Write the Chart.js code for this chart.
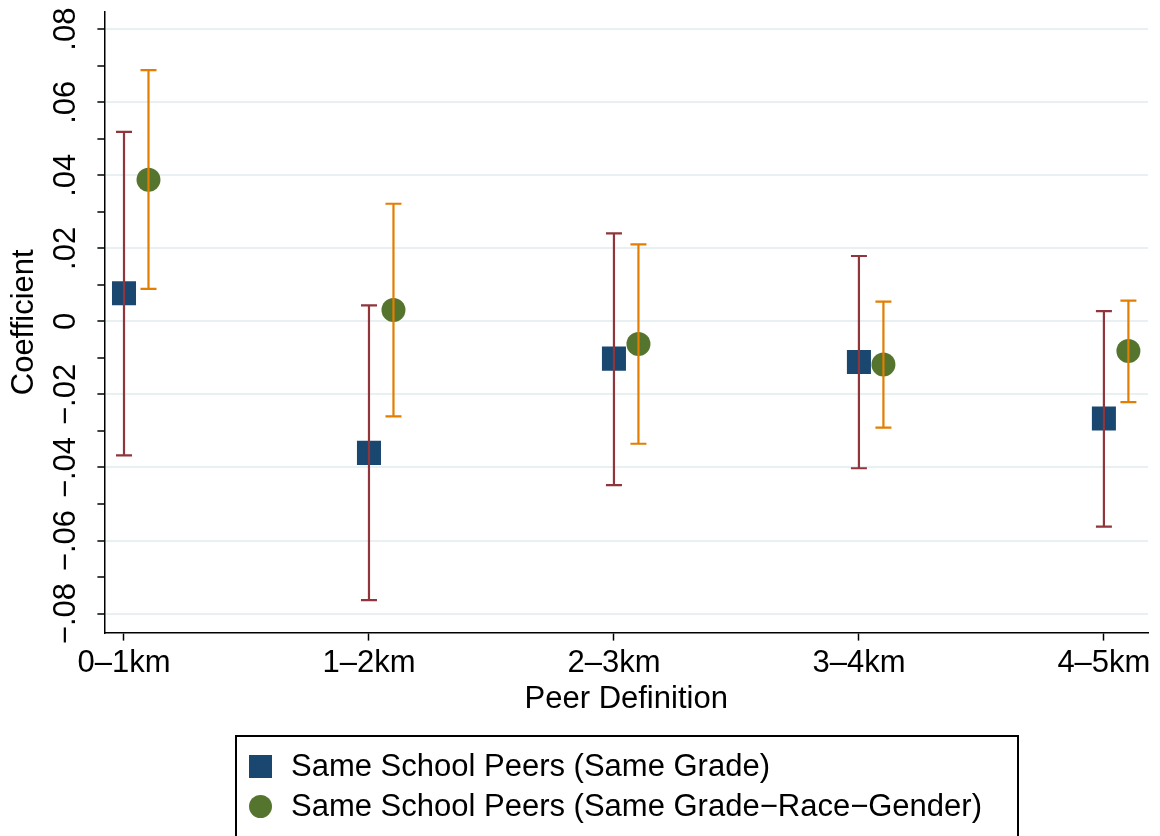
<!DOCTYPE html>
<html>
<head>
<meta charset="utf-8">
<script src="https://cdn.jsdelivr.net/npm/chart.js@4.4.0/dist/chart.umd.min.js"></script>
<style>
  html, body { margin: 0; padding: 0; background: #fff; }
  #wrap { position: relative; width: 1160px; height: 836px; overflow: hidden; }
  #legend {
    position: absolute; left: 235px; top: 735px; width: 784px; height: 140px;
    border: 2px solid #000; box-sizing: border-box;
    font-family: "Liberation Sans", Arial, sans-serif; font-size: 31px; color: #000;
  }
  .row { position: absolute; left: 0; height: 40px; display: flex; align-items: center; white-space: nowrap; }
  .sym { width: 23px; height: 23px; margin-left: 12px; margin-right: 19px; }
</style>
</head>
<body>
<div id="wrap">
  <canvas id="chart" width="1160" height="836"></canvas>
  <div id="legend">
    <div class="row" style="top:9px"><span class="sym" style="background:#1a476f"></span>Same School Peers (Same Grade)</div>
    <div class="row" style="top:49px"><span class="sym" style="background:#55752f;border-radius:50%"></span>Same School Peers (Same Grade−Race−Gender)</div>
  </div>
</div>
<script>
var categories = ['0–1km', '1–2km', '2–3km', '3–4km', '4–5km'];

// Same grade peers
var gradeCoef = [0.0077, -0.0360, -0.0102, -0.0111, -0.0266];
var gradeLow  = [-0.0367, -0.0763, -0.0448, -0.0402, -0.0562];
var gradeHigh = [0.0519, 0.0044, 0.0241, 0.0179, 0.0028];

// Same grade-race-gender peers
var grgCoef = [0.0388, 0.0031, -0.0062, -0.0118, -0.0081];
var grgLow  = [0.0089, -0.0260, -0.0335, -0.0291, -0.0221];
var grgHigh = [0.0688, 0.0322, 0.0211, 0.0054, 0.0057];

var yTickValues = [-0.08, -0.07, -0.06, -0.05, -0.04, -0.03, -0.02, -0.01, 0,
                   0.01, 0.02, 0.03, 0.04, 0.05, 0.06, 0.07, 0.08];
var yLabelValues = [-0.08, -0.06, -0.04, -0.02, 0, 0.02, 0.04, 0.06, 0.08];
var yLabels = ['−.08', '−.06', '−.04', '−.02', '0', '.02', '.04', '.06', '.08'];

var FONT = '"Liberation Sans", Arial, sans-serif';
var shift = 0.1; // second series sits a little to the right

function points(vals, dx) {
  return vals.map(function (v, i) { return {x: i + dx, y: v}; });
}

function isLabelled(v) {
  return Math.round(v * 100) % 2 === 0;
}

var errorBars = {
  id: 'errorBars',
  afterDatasetsDraw: function (chart) {
    var ctx = chart.ctx;
    var xs = chart.scales.x, ys = chart.scales.y;
    chart.data.datasets.forEach(function (ds) {
      ds.data.forEach(function (p, i) {
        var px = xs.getPixelForValue(p.x);
        var top = ys.getPixelForValue(ds.errHigh[i]);
        var bot = ys.getPixelForValue(ds.errLow[i]);
        ctx.save();
        ctx.strokeStyle = ds.errColor;
        ctx.lineWidth = 2.2;
        ctx.beginPath();
        ctx.moveTo(px, top); ctx.lineTo(px, bot);
        ctx.moveTo(px - 8, top); ctx.lineTo(px + 8, top);
        ctx.moveTo(px - 8, bot); ctx.lineTo(px + 8, bot);
        ctx.stroke();
        ctx.restore();
      });
    });
  }
};

new Chart('chart', {
  type: 'scatter',
  data: {
    datasets: [{
      label: 'Same School Peers (Same Grade)',
      data: points(gradeCoef, 0),
      errLow: gradeLow,
      errHigh: gradeHigh,
      errColor: '#90353b',
      pointStyle: 'rect',
      pointRadius: 17,
      backgroundColor: '#1a476f',
      borderColor: '#1a476f',
      borderWidth: 0
    }, {
      label: 'Same School Peers (Same Grade−Race−Gender)',
      data: points(grgCoef, shift),
      errLow: grgLow,
      errHigh: grgHigh,
      errColor: '#e37e00',
      pointStyle: 'circle',
      pointRadius: 12,
      backgroundColor: '#55752f',
      borderColor: '#55752f',
      borderWidth: 0
    }]
  },
  options: {
    responsive: false,
    animation: false,
    layout: {autoPadding: false, padding: {left: 2, top: 12, right: 12, bottom: 114}},
    plugins: {
      legend: {display: false},
      tooltip: {enabled: false}
    },
    scales: {
      x: {
        type: 'linear',
        min: -0.08,
        max: 4.18,
        afterBuildTicks: function (scale) {
          scale.ticks = categories.map(function (c, i) { return {value: i}; });
        },
        afterFit: function (scale) { scale.paddingLeft = 0; scale.paddingRight = 0; },
        ticks: {
          autoSkip: false,
          maxRotation: 0,
          padding: 4,
          color: '#000',
          font: {family: FONT, size: 31},
          callback: function (v) { return categories[v]; }
        },
        grid: {drawOnChartArea: false, tickLength: 8, tickColor: '#000', tickWidth: 1.5},
        border: {color: '#000', width: 1.5},
        title: {
          display: true,
          text: 'Peer Definition',
          color: '#000',
          font: {family: FONT, size: 31},
          padding: {top: -5, bottom: 4}
        }
      },
      y: {
        min: -0.0852,
        max: 0.0847,
        afterBuildTicks: function (scale) {
          scale.ticks = yTickValues.map(function (v) { return {value: v}; });
        },
        afterFit: function (scale) { scale.paddingTop = 0; scale.paddingBottom = 0; },
        ticks: {
          autoSkip: false,
          minRotation: 90,
          maxRotation: 90,
          crossAlign: 'center',
          padding: 0,
          color: '#000',
          font: {family: FONT, size: 31},
          callback: function (v) {
            var k = yLabelValues.findIndex(function (w) { return Math.abs(w - v) < 1e-9; });
            return k < 0 ? '' : yLabels[k];
          }
        },
        grid: {
          color: function (c) {
            return c.tick && isLabelled(c.tick.value) ? '#e9f0f2' : 'rgba(0,0,0,0)';
          },
          lineWidth: 2,
          tickLength: 7,
          tickColor: '#000',
          tickWidth: 1.5
        },
        border: {color: '#000', width: 1.5},
        title: {
          display: true,
          text: 'Coefficient',
          color: '#000',
          font: {family: FONT, size: 31},
          padding: {top: 4, bottom: 17}
        }
      }
    }
  },
  plugins: [errorBars]
});
</script>
</body>
</html>
